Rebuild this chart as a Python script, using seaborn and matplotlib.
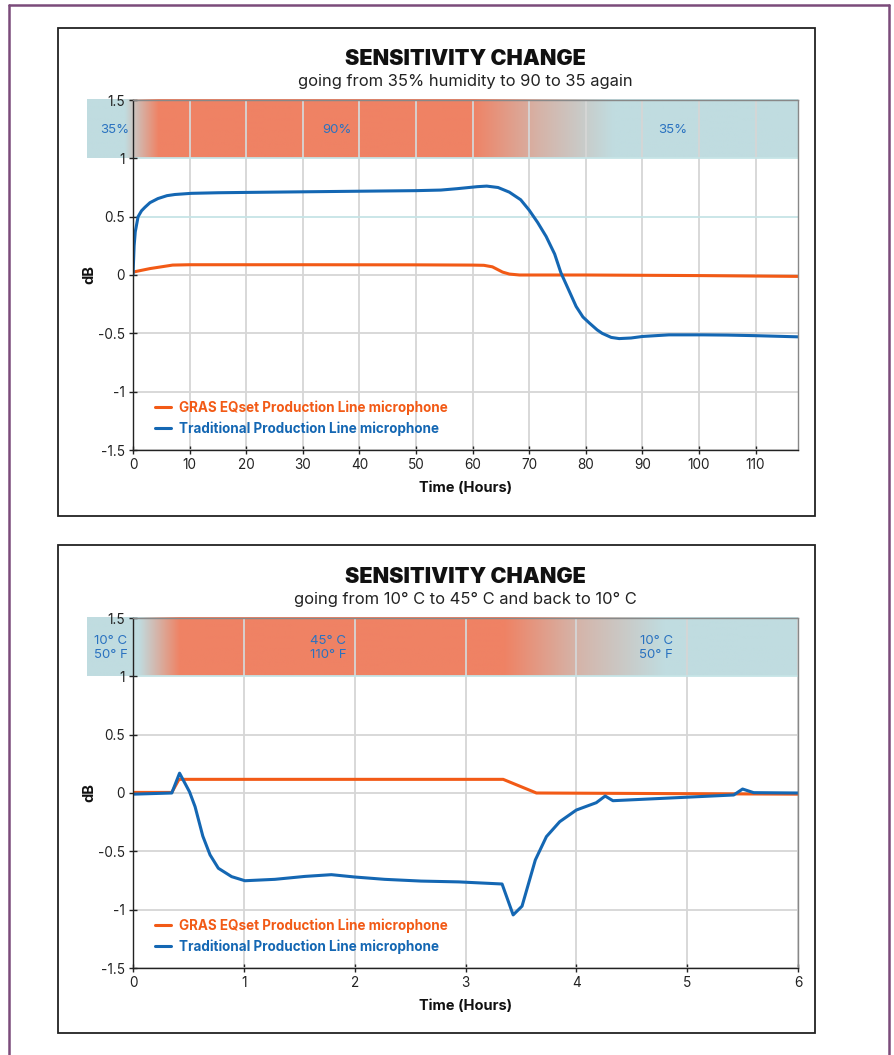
import numpy as np
import pandas as pd
import matplotlib
matplotlib.use('Agg')
import matplotlib.pyplot as plt
from matplotlib.patches import Rectangle
from matplotlib.lines import Line2D
import seaborn as sns

# humidity test (hours)
hum_hours_trad = [0, 0.2, 0.4, 0.9, 1.5, 2.1, 3, 4.4, 6, 7.4, 10.3, 15, 20.3, 30, 39.7, 50, 54.4,
                  57.3, 60.8, 62.5, 64.5, 66.5, 68.5, 70, 71.5, 73, 74.5, 75.6, 77, 78.3, 79.5,
                  80.6, 82, 82.9, 84.5, 85.9, 88, 90, 94.7, 100.6, 105, 110, 117.5]
hum_trad = [0, 0.25, 0.37, 0.50, 0.55, 0.58, 0.62, 0.655, 0.68, 0.69, 0.70, 0.705, 0.708, 0.713,
            0.718, 0.723, 0.728, 0.74, 0.757, 0.762, 0.75, 0.71, 0.645, 0.556, 0.45, 0.33, 0.18,
            0.02, -0.13, -0.27, -0.36, -0.41, -0.47, -0.50, -0.535, -0.545, -0.54, -0.527,
            -0.513, -0.513, -0.515, -0.52, -0.53]
hum_hours_eq = [0, 3, 7, 10, 30, 50, 60, 62, 63.5, 65.3, 66.5, 68.3, 80, 100, 117.5]
hum_eq = [0.025, 0.055, 0.085, 0.088, 0.088, 0.087, 0.085, 0.083, 0.07, 0.025, 0.008, 0.0,
          0.0, -0.005, -0.012]

# temperature test (hours)
temp_hours_trad = [0, 0.35, 0.42, 0.51, 0.56, 0.63, 0.695, 0.77, 0.89, 1.01, 1.28, 1.55, 1.79,
                   2.0, 2.27, 2.6, 2.94, 3.33, 3.43, 3.51, 3.63, 3.73, 3.85, 4.0, 4.18, 4.26,
                   4.33, 5.42, 5.50, 5.60, 6.0]
temp_trad = [-0.01, 0.0, 0.17, 0.01, -0.117, -0.37, -0.53, -0.645, -0.717, -0.752, -0.74,
             -0.715, -0.70, -0.72, -0.74, -0.755, -0.762, -0.78, -1.045, -0.97, -0.574,
             -0.374, -0.246, -0.146, -0.083, -0.026, -0.066, -0.017, 0.034, 0.003, 0.0]
temp_hours_eq = [0, 0.35, 0.415, 3.34, 3.64, 6.0]
temp_eq = [0.005, 0.005, 0.117, 0.117, 0.0, -0.01]

labels = ['GRAS EQset Production Line microphone', 'Traditional Production Line microphone']

ORANGE = '#f25a16'
BLUE = '#1467b3'
BAND_BLUE = '#c0dce0'
BAND_RED = '#ef8264'
TEXT_BLUE = '#2a72c0'

sns.set_theme(style='white')
plt.rcParams['font.family'] = ['Inter', 'DejaVu Sans']

fig = plt.figure(figsize=(8.95, 10.55), dpi=100)

# page border and panel frames
fig.add_artist(Line2D([9/895, 9/895], [0, 1 - 5/1055], color='#7b4b7a', lw=1.8))
fig.add_artist(Line2D([889/895, 889/895], [0, 1 - 5/1055], color='#7b4b7a', lw=1.8))
fig.add_artist(Line2D([9/895, 889/895], [1 - 5/1055, 1 - 5/1055], color='#7b4b7a', lw=1.8))
for top, bot in [(28, 516), (545, 1033)]:
    fig.add_artist(Rectangle((58/895, 1 - bot/1055), (815-58)/895, (bot-top)/1055,
                             fill=False, ec='#222222', lw=1.3, transform=fig.transFigure))


def band(ax, x0, x1, stops, texts):
    xs = np.linspace(x0, x1, 600)
    c0 = np.array(matplotlib.colors.to_rgb(BAND_BLUE))
    c1 = np.array(matplotlib.colors.to_rgb(BAND_RED))
    sp = [s[0] for s in stops]
    sv = [s[1] for s in stops]
    w = np.interp(xs, sp, sv)[:, None]
    img = (c0 * (1 - w) + c1 * w)[None, :, :]
    ax.imshow(img, extent=(x0, x1, 1, 1.5), aspect='auto', clip_on=False, zorder=-1,
              interpolation='bilinear')
    for tx, t in texts:
        ax.text(tx, 1.24, t, ha='center', va='center', color=TEXT_BLUE, fontsize=9.5,
                linespacing=1.2)


def panel(bottom, x_eq, y_eq, x_tr, y_tr, xmax, xticks, title, subtitle):
    ax = fig.add_axes([133/895, bottom, 665/895, 350/1055])
    sns.lineplot(x=x_eq, y=y_eq, color=ORANGE, lw=2.2, ax=ax, label=labels[0])
    sns.lineplot(x=x_tr, y=y_tr, color=BLUE, lw=2.2, ax=ax, label=labels[1])
    ax.set_xlim(0, xmax)
    ax.set_ylim(-1.5, 1.5)
    ax.set_xticks(xticks)
    ax.set_xticklabels([str(t) for t in xticks])
    ax.set_yticks([-1.5, -1, -0.5, 0, 0.5, 1, 1.5])
    ax.set_yticklabels(['-1.5', '-1', '-0.5', '0', '0.5', '1', '1.5'])
    ax.grid(True, color='#d6d6d6', lw=1.3)
    ax.set_axisbelow(True)
    for s in ['top', 'right']:
        ax.spines[s].set_color('#888888')
        ax.spines[s].set_linewidth(1)
    for s in ['left', 'bottom']:
        ax.spines[s].set_color('#222222')
        ax.spines[s].set_linewidth(1)
    ax.tick_params(axis='both', direction='inout', length=6, width=1, color='#222222',
                   labelsize=9.8, labelcolor='#222222', pad=3, left=True, bottom=True)
    ax.set_xlabel('Time (Hours)', fontsize=10.5, fontweight='bold', color='#111111', labelpad=6)
    ax.set_ylabel('dB', fontsize=10.5, fontweight='bold', color='#111111', labelpad=1)
    ax.legend(loc='lower left', bbox_to_anchor=(0.025, 0.026), frameon=False,
              prop={'weight': 'bold', 'size': 9.7}, labelcolor=[ORANGE, BLUE],
              handlelength=1.2, handletextpad=0.6, labelspacing=0.45, borderaxespad=0)
    ax.text(0.5, 1.118, title, transform=ax.transAxes, ha='center', va='center',
            fontsize=15.5, fontweight='black', color='#111111')
    ax.text(0.5, 1.053, subtitle, transform=ax.transAxes, ha='center', va='center',
            fontsize=11.9, color='#222222')
    return ax


ax1 = panel(1 - 450/1055, hum_hours_eq, hum_eq, hum_hours_trad, hum_trad, 117.5,
            list(range(0, 111, 10)), 'SENSITIVITY CHANGE',
            'going from 35% humidity to 90 to 35 again')
band(ax1, -8.1, 117.5, [(-8.1, 0), (-1.5, 0), (4.5, 1), (60, 1), (72, 0.45), (85, 0), (117.5, 0)],
     [(-3.2, '35%'), (36, '90%'), (95.3, '35%')])
for gl, yv in zip(ax1.get_ygridlines(), ax1.get_yticks()):
    if yv in (0.5, 1.0):
        gl.set_color('#c6e4e6')

ax2 = panel(1 - 968/1055, temp_hours_eq, temp_eq, temp_hours_trad, temp_trad, 6,
            list(range(0, 7)), 'SENSITIVITY CHANGE',
            'going from 10° C to 45° C and back to 10° C')
band(ax2, -0.415, 6, [(-0.415, 0), (0.05, 0), (0.42, 1), (3.35, 1), (4.0, 0.45), (4.8, 0), (6, 0)],
     [(-0.2, '10° C\n50° F'), (1.76, '45° C\n110° F'), (4.72, '10° C\n50° F')])
for gl, yv in zip(ax2.get_ygridlines(), ax2.get_yticks()):
    if yv == 1.0:
        gl.set_color('#c6e4e6')

fig.savefig('out.png', dpi=100)
